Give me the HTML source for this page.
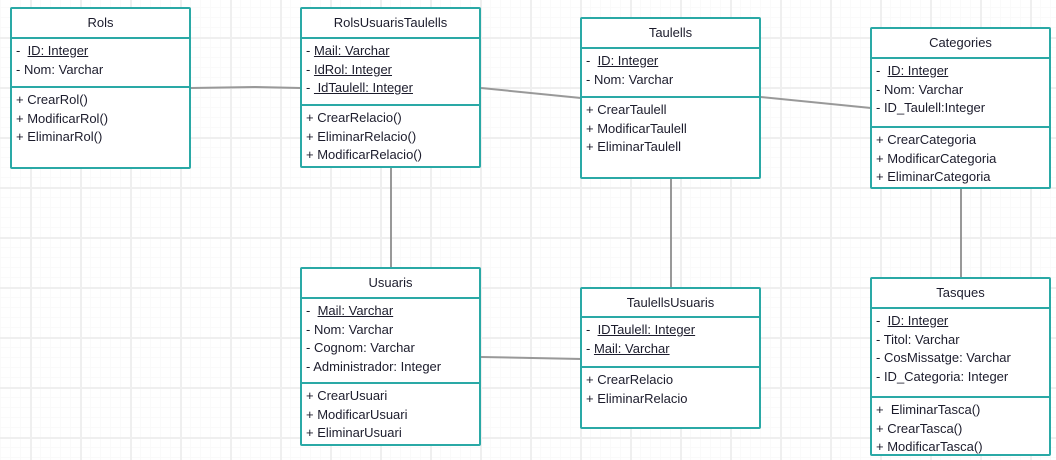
<!DOCTYPE html>
<html><head><meta charset="utf-8"><style>
*{margin:0;padding:0;box-sizing:border-box}
body{width:1056px;height:460px;position:relative;overflow:hidden;background:#fff;
background-image:
linear-gradient(to right,#efefef 2px,transparent 2px),
linear-gradient(to bottom,#efefef 2px,transparent 2px),
linear-gradient(to right,#fafafa 1px,transparent 1px),
linear-gradient(to bottom,#fafafa 1px,transparent 1px);
background-size:50px 50px,50px 50px,10px 10px,10px 10px;
background-position:30px 37px,30px 37px,0 7px,0 7px;
font-family:"Liberation Sans",sans-serif;color:#1c1c2c;font-size:13px}
.b{position:absolute;border:2px solid #2aa9a6;background:#fff;width:181px;border-radius:2px}
.h{text-align:center;border-bottom:2px solid #2aa9a6;font-size:13px}
.s{padding:3px 0 0 4px;line-height:18.5px}
.s+.s{border-top:2px solid #2aa9a6}
u{text-decoration:underline}
svg{position:absolute;left:0;top:0}
</style></head><body>
<svg width="1056" height="460"><g stroke="#999" stroke-width="2" fill="none">
<polyline points="191,88 255,87 301,88"/>
<line x1="481" y1="88" x2="581" y2="98"/>
<line x1="761" y1="97" x2="871" y2="108"/>
<line x1="391" y1="167" x2="391" y2="268"/>
<line x1="671" y1="178" x2="671" y2="288"/>
<line x1="961" y1="188" x2="961" y2="278"/>
<line x1="481" y1="357" x2="581" y2="359"/>
</g></svg>

<div class="b" style="left:10px;top:7px;height:162px">
<div class="h" style="height:30px;line-height:28px">Rols</div>
<div class="s" style="height:47px">-&nbsp; <u>ID: Integer</u><br>- Nom: Varchar</div>
<div class="s">+ CrearRol()<br>+ ModificarRol()<br>+ EliminarRol()</div>
</div>

<div class="b" style="left:300px;top:7px;height:161px">
<div class="h" style="height:30px;line-height:28px">RolsUsuarisTaulells</div>
<div class="s" style="height:65px">- <u>Mail: Varchar</u><br>- <u>IdRol: Integer</u><br>- <u>&nbsp;IdTaulell: Integer</u></div>
<div class="s">+ CrearRelacio()<br>+ EliminarRelacio()<br>+ ModificarRelacio()</div>
</div>

<div class="b" style="left:580px;top:17px;height:162px">
<div class="h" style="height:30px;line-height:28px">Taulells</div>
<div class="s" style="height:47px">-&nbsp; <u>ID: Integer</u><br>- Nom: Varchar</div>
<div class="s">+ CrearTaulell<br>+ ModificarTaulell<br>+ EliminarTaulell</div>
</div>

<div class="b" style="left:870px;top:27px;height:162px">
<div class="h" style="height:30px;line-height:28px">Categories</div>
<div class="s" style="height:67px">-&nbsp; <u>ID: Integer</u><br>- Nom: Varchar<br>- ID_Taulell:Integer</div>
<div class="s">+ CrearCategoria<br>+ ModificarCategoria<br>+ EliminarCategoria</div>
</div>

<div class="b" style="left:300px;top:267px;height:179px">
<div class="h" style="height:30px;line-height:28px">Usuaris</div>
<div class="s" style="height:83px">-&nbsp; <u>Mail: Varchar</u><br>- Nom: Varchar<br>- Cognom: Varchar<br>- Administrador: Integer</div>
<div class="s">+ CrearUsuari<br>+ ModificarUsuari<br>+ EliminarUsuari</div>
</div>

<div class="b" style="left:580px;top:287px;height:142px">
<div class="h" style="height:29px;line-height:27px">TaulellsUsuaris</div>
<div class="s" style="height:48px">-&nbsp; <u>IDTaulell: Integer</u><br>- <u>Mail: Varchar</u></div>
<div class="s">+ CrearRelacio<br>+ EliminarRelacio</div>
</div>

<div class="b" style="left:870px;top:277px;height:179px">
<div class="h" style="height:30px;line-height:28px">Tasques</div>
<div class="s" style="height:87px">-&nbsp; <u>ID: Integer</u><br>- Titol: Varchar<br>- CosMissatge: Varchar<br>- ID_Categoria: Integer</div>
<div class="s">+&nbsp; EliminarTasca()<br>+ CrearTasca()<br>+ ModificarTasca()</div>
</div>
</body></html>
